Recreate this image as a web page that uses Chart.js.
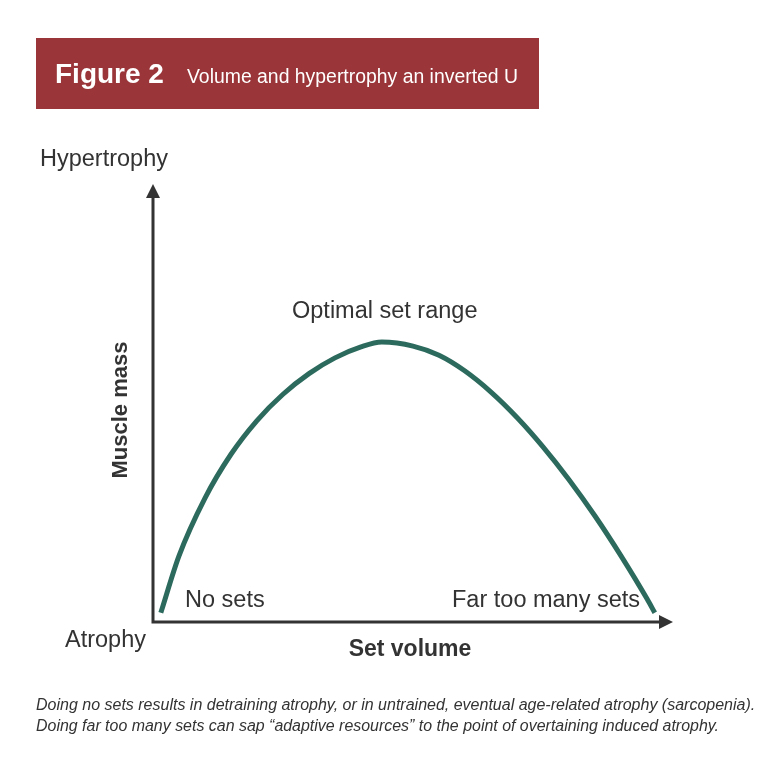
<!DOCTYPE html>
<html>
<head>
<meta charset="utf-8">
<script src="https://cdn.jsdelivr.net/npm/chart.js@4"></script>
<style>
  html, body { margin: 0; padding: 0; background: #fff; }
  #wrap { width: 768px; height: 783px; }
</style>
</head>
<body>
<div id="wrap"><canvas id="canvas"></canvas></div>
<script>
// set volume (0-100) and muscle mass (0-100)
var setVolume = [1.5, 5, 10, 15, 20, 25, 30, 35, 40, 44, 50, 55, 60, 65, 70, 75, 80, 85, 90, 95, 96.5];
var muscleMass = [2.1, 15.1, 28.3, 38.3, 46.0, 52.0, 56.7, 60.3, 62.8, 63.9, 63.0, 60.9, 57.3, 52.5, 46.7, 40.0, 32.5, 24.2, 15.1, 5.3, 2.1];

var titleBold = "Figure 2";
var titleText = "Volume and hypertrophy an inverted U";
var yTopLabel = "Hypertrophy";
var yBottomLabel = "Atrophy";
var yAxisTitle = "Muscle mass";
var xAxisTitle = "Set volume";
var peakLabel = "Optimal set range";
var leftLabel = "No sets";
var rightLabel = "Far too many sets";
var caption = [
  "Doing no sets results in detraining atrophy, or in untrained, eventual age-related atrophy (sarcopenia).",
  "Doing far too many sets can sap \u201cadaptive resources\u201d to the point of overtaining induced atrophy."
];

var points = setVolume.map(function(v, i){
  return { x: v, y: muscleMass[i] };
});

var dark = '#333333';
var font = '"Liberation Sans", Arial, Helvetica, sans-serif';

var decor = {
  id: 'decor',
  beforeDraw: function(chart){
    var ctx = chart.ctx;
    ctx.save();
    ctx.fillStyle = '#fff';
    ctx.fillRect(0, 0, chart.width, chart.height);
    // banner
    ctx.fillStyle = '#9a3639';
    ctx.fillRect(36, 38, 503, 71);
    ctx.fillStyle = '#fff';
    ctx.textBaseline = 'alphabetic';
    ctx.font = 'bold 28px ' + font;
    ctx.fillText(titleBold, 55, 83, 114);
    ctx.font = '20px ' + font;
    ctx.fillText(titleText, 187, 83, 331);
    ctx.restore();
  },
  afterDraw: function(chart){
    var ctx = chart.ctx;
    var a = chart.chartArea;
    var x0 = chart.scales.x.getPixelForValue(0);
    var y0 = chart.scales.y.getPixelForValue(0);
    ctx.save();
    // axes
    ctx.strokeStyle = dark;
    ctx.fillStyle = dark;
    ctx.lineWidth = 3;
    ctx.beginPath();
    ctx.moveTo(x0, a.top + 10);
    ctx.lineTo(x0, y0);
    ctx.lineTo(a.right - 10, y0);
    ctx.stroke();
    ctx.beginPath();
    ctx.moveTo(x0, a.top);
    ctx.lineTo(x0 - 7, a.top + 14);
    ctx.lineTo(x0 + 7, a.top + 14);
    ctx.closePath();
    ctx.fill();
    ctx.beginPath();
    ctx.moveTo(a.right, y0);
    ctx.lineTo(a.right - 14, y0 - 7);
    ctx.lineTo(a.right - 14, y0 + 7);
    ctx.closePath();
    ctx.fill();

    ctx.fillStyle = dark;
    ctx.textBaseline = 'alphabetic';
    ctx.font = '23.5px ' + font;
    ctx.textAlign = 'left';
    ctx.fillText(yTopLabel, 40, 166);
    ctx.fillText(yBottomLabel, 65, 647);
    ctx.fillText(leftLabel, 185, 607);
    ctx.fillText(rightLabel, 452, 607);
    ctx.fillText(peakLabel, 292, 318);

    ctx.font = 'bold 23px ' + font;
    ctx.textAlign = 'center';
    ctx.fillText(xAxisTitle, 410, 656);
    ctx.save();
    ctx.translate(127, 410);
    ctx.rotate(-Math.PI / 2);
    ctx.font = 'bold 22px ' + font;
    ctx.fillText(yAxisTitle, 0, 0);
    ctx.restore();

    ctx.textAlign = 'left';
    ctx.font = 'italic 16px ' + font;
    ctx.fillText(caption[0], 36, 710, 721);
    ctx.fillText(caption[1], 36, 731, 683);
    ctx.restore();
  }
};

var ctx = document.getElementById('canvas').getContext('2d');
var chart = new Chart(ctx, {
  type: 'scatter',
  data: {
    datasets: [{
      label: 'Muscle mass',
      data: points,
      showLine: true,
      borderColor: '#2d6a5e',
      backgroundColor: '#2d6a5e',
      borderWidth: 5,
      pointRadius: 0,
      cubicInterpolationMode: 'monotone',
      borderCapStyle: 'butt'
    }]
  },
  options: {
    responsive: true,
    maintainAspectRatio: false,
    animation: false,
    layout: { padding: { left: 153, right: 95, top: 184, bottom: 161 } },
    plugins: { legend: { display: false }, tooltip: { enabled: false } },
    scales: {
      x: { type: 'linear', min: 0, max: 100, display: false },
      y: { type: 'linear', min: 0, max: 100, display: false }
    }
  },
  plugins: [decor]
});
</script>
</body>
</html>
